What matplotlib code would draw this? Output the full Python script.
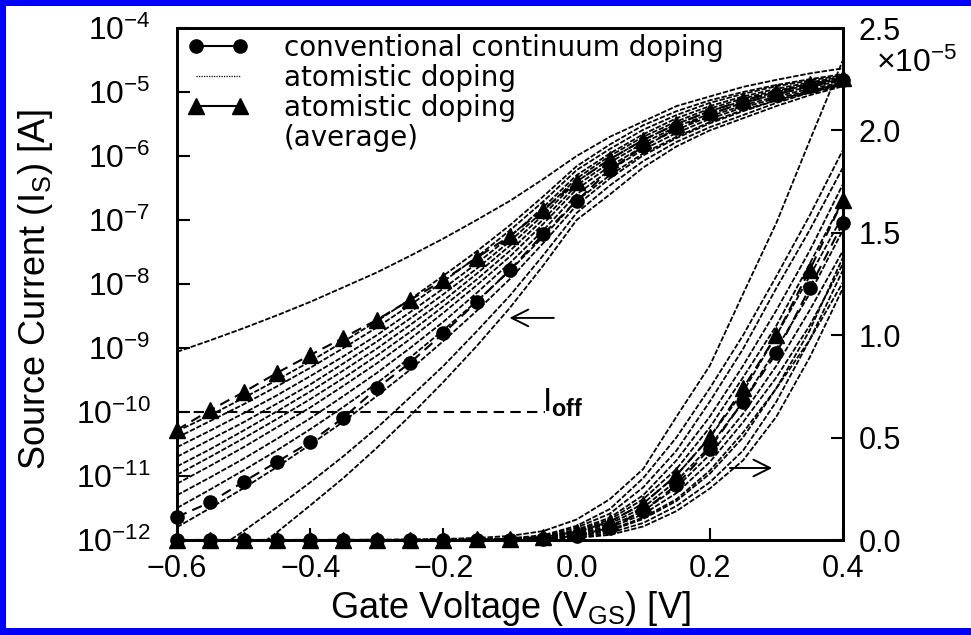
import matplotlib
matplotlib.use('Agg')
import matplotlib.pyplot as plt
import numpy as np
from matplotlib.lines import Line2D
from matplotlib.patches import Rectangle
from matplotlib.ticker import FixedLocator, FuncFormatter, NullLocator

plt.rcParams['font.family'] = ['Liberation Sans', 'DejaVu Sans']
plt.rcParams['mathtext.fontset'] = 'custom'
plt.rcParams['mathtext.rm'] = 'Liberation Sans'
plt.rcParams['mathtext.it'] = 'Liberation Sans:italic'
plt.rcParams['mathtext.bf'] = 'Liberation Sans:bold'

# gate voltage [V]
vgs = [-0.6, -0.55, -0.5, -0.45, -0.4, -0.35, -0.3, -0.25, -0.2, -0.15, -0.1,
       -0.05, 0.0, 0.05, 0.1, 0.15, 0.2, 0.25, 0.3, 0.35, 0.4]

# log10 of source current [A]
continuum = [-11.64, -11.41, -11.09, -10.78, -10.47, -10.09, -9.63, -9.23, -8.77, -8.28, -7.78,
             -7.22, -6.70, -6.22, -5.85, -5.57, -5.35, -5.17, -5.04, -4.91, -4.81]
average = [-10.28, -9.97, -9.69, -9.39, -9.11, -8.84, -8.56, -8.25, -7.94, -7.59, -7.25,
           -6.84, -6.40, -6.05, -5.75, -5.50, -5.30, -5.13, -5.00, -4.88, -4.78]

# individual atomistic devices
atom_a = [-9.06, -8.88, -8.69, -8.49, -8.28, -8.05, -7.82, -7.56, -7.29, -7.00, -6.70,
          -6.36, -6.00, -5.70, -5.46, -5.22, -5.07, -4.92, -4.81, -4.71, -4.63]
atom_b = [-10.30, -10.05, -9.78, -9.50, -9.21, -8.90, -8.58, -8.24, -7.87, -7.49, -7.08,
          -6.63, -6.16, -5.82, -5.52, -5.30, -5.13, -5.00, -4.89, -4.80, -4.72]
atom_c = [-10.40, -10.14, -9.88, -9.60, -9.31, -9.00, -8.68, -8.33, -7.96, -7.58, -7.16,
          -6.71, -6.22, -5.89, -5.59, -5.36, -5.17, -5.03, -4.91, -4.82, -4.74]
atom_d = [-10.55, -10.29, -10.02, -9.74, -9.44, -9.13, -8.80, -8.44, -8.07, -7.68, -7.26,
          -6.80, -6.30, -5.96, -5.66, -5.41, -5.22, -5.07, -4.95, -4.85, -4.76]
atom_e = [-10.70, -10.43, -10.16, -9.87, -9.57, -9.24, -8.90, -8.54, -8.16, -7.76, -7.33,
          -6.86, -6.35, -6.00, -5.70, -5.46, -5.26, -5.10, -4.98, -4.87, -4.78]
atom_f = [-10.85, -10.58, -10.29, -9.99, -9.68, -9.35, -9.01, -8.64, -8.26, -7.84, -7.40,
          -6.92, -6.40, -6.05, -5.75, -5.50, -5.30, -5.14, -5.00, -4.89, -4.80]
atom_g = [-10.98, -10.70, -10.41, -10.11, -9.80, -9.47, -9.12, -8.75, -8.35, -7.93, -7.48,
          -6.99, -6.46, -6.10, -5.80, -5.54, -5.34, -5.17, -5.03, -4.92, -4.82]
atom_h = [-11.12, -10.84, -10.55, -10.24, -9.93, -9.59, -9.24, -8.86, -8.45, -8.02, -7.57,
          -7.06, -6.52, -6.16, -5.85, -5.59, -5.38, -5.21, -5.07, -4.95, -4.85]
atom_i = [-11.30, -11.02, -10.73, -10.42, -10.10, -9.75, -9.39, -9.00, -8.59, -8.14, -7.67,
          -7.16, -6.60, -6.22, -5.90, -5.64, -5.42, -5.24, -5.10, -4.98, -4.87]
atom_j = [-11.50, -11.21, -10.91, -10.60, -10.27, -9.92, -9.55, -9.15, -8.72, -8.27, -7.79,
          -7.26, -6.70, -6.30, -5.96, -5.70, -5.47, -5.28, -5.13, -5.01, -4.90]
atom_k = [-11.80, -11.50, -11.19, -10.86, -10.51, -10.15, -9.75, -9.34, -8.89, -8.42, -7.92,
          -7.36, -6.77, -6.35, -5.99, -5.72, -5.49, -5.30, -5.13, -4.99, -4.86]
atom_l = [-12.55, -12.21, -11.86, -11.49, -11.10, -10.69, -10.25, -9.77, -9.28, -8.74, -8.18,
          -7.55, -6.89, -6.46, -6.08, -5.78, -5.55, -5.36, -5.17, -5.01, -4.88]
atom_m = [-13.00, -12.64, -12.27, -11.88, -11.46, -11.03, -10.56, -10.06, -9.53, -8.97, -8.37,
          -7.71, -7.00, -6.60, -6.18, -5.85, -5.60, -5.41, -5.22, -5.05, -4.91]

atomistic = [atom_a, atom_b, atom_c, atom_d, atom_e, atom_f, atom_g,
             atom_h, atom_i, atom_j, atom_k, atom_l, atom_m]

fig = plt.figure(figsize=(9.71, 6.35), dpi=100)
ax = fig.add_axes([177 / 971, 1 - 540 / 635, 666 / 971, 512 / 635])
ax2 = ax.twinx()

atom_style = dict(color='black', lw=1.3, ls=(0, (3, 1)))
for curve in atomistic:
    cur = 10.0 ** np.array(curve)
    ax.plot(vgs, cur, **atom_style)
    ax2.plot(vgs, cur, **atom_style)

cont = 10.0 ** np.array(continuum)
avg = 10.0 ** np.array(average)
for a in (ax, ax2):
    a.plot(vgs, cont, color='black', lw=1.5, dashes=(5, 3), marker='o', ms=9.5,
           clip_on=False, zorder=4)
    a.plot(vgs, avg, color='black', lw=1.5, dashes=(5, 3), marker='^', ms=11,
           clip_on=False, zorder=4)

# off-current marker
ax.plot([-0.6, -0.048], [1e-10, 1e-10], color='black', lw=1.5, dashes=(5, 3))
ax.text(-0.052, 1e-10, r'$\mathrm{I}_{\mathbf{off}}$', fontsize=24, ha='left', va='baseline')

ax.annotate('', xy=(-0.105, 10 ** -8.53), xytext=(-0.03, 10 ** -8.53),
            arrowprops=dict(arrowstyle='->', lw=1.4, mutation_scale=30))
ax.annotate('', xy=(0.298, 10 ** -10.875), xytext=(0.226, 10 ** -10.875),
            arrowprops=dict(arrowstyle='->', lw=1.4, mutation_scale=30))

ax.set_xlim(-0.6, 0.4)
ax.set_yscale('log')
ax.set_ylim(1e-12, 1e-4)
ax2.set_ylim(0, 2.5e-5)

ax.xaxis.set_major_locator(FixedLocator([-0.6, -0.4, -0.2, 0.0, 0.2, 0.4]))
ax.xaxis.set_major_formatter(FuncFormatter(lambda v, p: f'{v:.1f}'.replace('-', '\u2212')))
ax.yaxis.set_major_locator(FixedLocator([10.0 ** e for e in range(-12, -3)]))
ax.yaxis.set_minor_locator(NullLocator())
ax.yaxis.set_major_formatter(FuncFormatter(lambda v, p: r'$10^{%d}$' % round(np.log10(v))))
ax2.yaxis.set_major_locator(FixedLocator([0, 0.5e-5, 1e-5, 1.5e-5, 2e-5, 2.5e-5]))
ax2.yaxis.set_major_formatter(FuncFormatter(lambda v, p: f'{v / 1e-5:.1f}'))

ax.tick_params(axis='both', direction='in', length=9, width=1.5, labelsize=22)
ax.tick_params(axis='y', pad=19, labelsize=23)
ax.tick_params(axis='x', pad=10)
ax2.tick_params(axis='y', direction='in', length=9, width=1.5, labelsize=22, pad=11)
for a in (ax, ax2):
    for s in a.spines.values():
        s.set_linewidth(2.0)

fig.text(876 / 971, 1 - 63 / 635, r'$\times10^{-5}$', fontsize=23, va='center', ha='left')

ax.set_xlabel(r'Gate Voltage (V$_{\mathrm{GS}}$) [V]', fontsize=26)
ax.set_ylabel(r'Source Current (I$_{\mathrm{S}}$) [A]', fontsize=26)
ax.xaxis.set_label_coords(0.5, -0.095)
ax.yaxis.set_label_coords(-0.183, 0.49)

handles = [
    Line2D([], [], color='black', lw=1.5, marker='o', ms=9.5),
    Line2D([], [], color='black', lw=0.9, ls=(0, (1, 1))),
    Line2D([], [], color='black', lw=1.5, marker='^', ms=11),
    Line2D([], [], ls='none'),
]
labels = ['conventional continuum doping', 'atomistic doping', 'atomistic doping', '(average)']
ax.legend(handles, labels, loc='upper left', bbox_to_anchor=(0.0, 1.01), frameon=False,
          numpoints=2, handlelength=2.15, handletextpad=1.3, labelspacing=0.07,
          borderaxespad=0.0, prop={'family': 'DejaVu Sans', 'size': 20})

# blue frame of the scanned figure
for x0, y0, w, h in [(0, 0, 6, 635), (0, 0, 971, 6), (0, 628, 971, 7)]:
    fig.add_artist(Rectangle((x0 / 971, 1 - (y0 + h) / 635), w / 971, h / 635,
                             transform=fig.transFigure, color='#0000ff', lw=0))

fig.savefig('out.png', dpi=100)
